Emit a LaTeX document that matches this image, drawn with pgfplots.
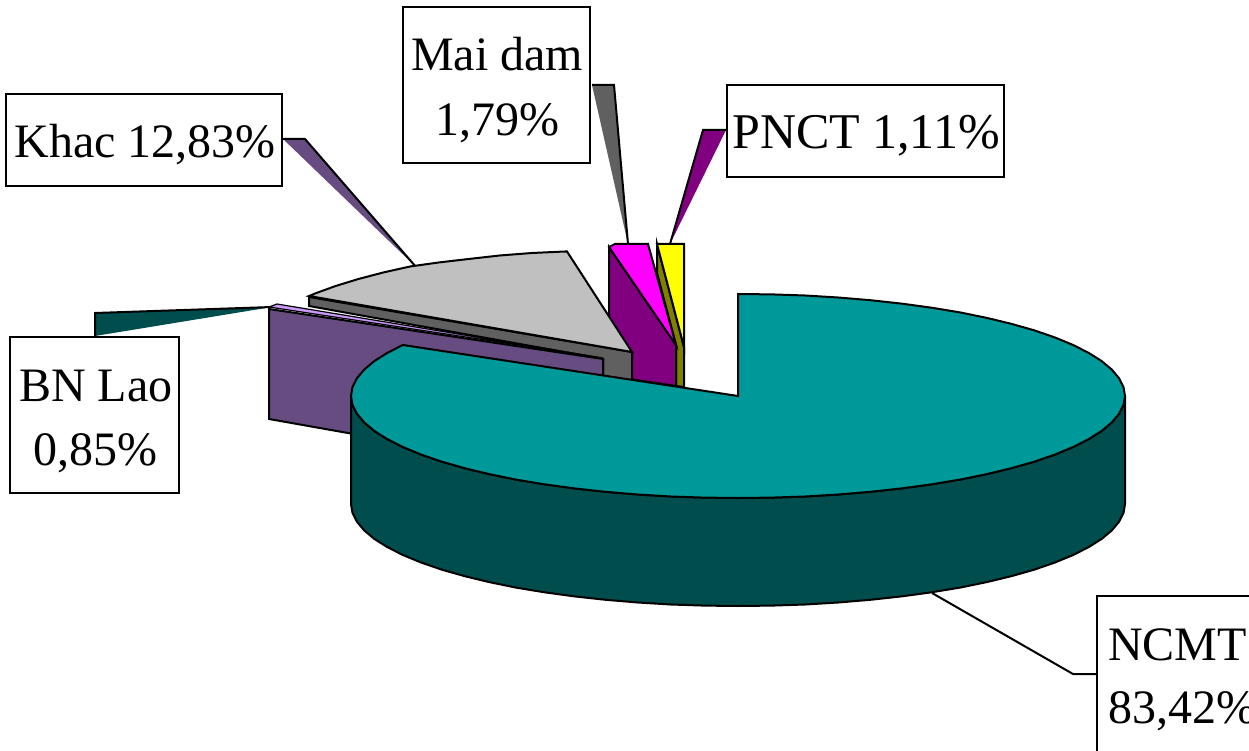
\documentclass[border=0pt]{standalone}
\usepackage{pgfplots}
\pgfplotsset{compat=1.18}
\usepackage{fontspec}
\setmainfont{Liberation Serif}
\definecolor{tealtop}{HTML}{009999}
\definecolor{tealside}{HTML}{004D4D}
\definecolor{wallpurple}{HTML}{664C80}
\definecolor{lilac}{HTML}{CC99FF}
\definecolor{greytop}{HTML}{C0C0C0}
\definecolor{greyside}{HTML}{606060}
\definecolor{purpleside}{HTML}{800080}
\definecolor{oliveside}{HTML}{808000}
\definecolor{topmagenta}{HTML}{FF00FF}
\definecolor{topyellow}{HTML}{FFFF00}
\newcommand{\lbl}[3]{\node[anchor=base,font=\fontsize{48}{54}\selectfont,inner sep=0pt] at (axis cs:#1,#2) {#3};}
\begin{document}
\begin{tikzpicture}
\path[use as bounding box] (0,0) rectangle (1249pt,751pt);
\begin{axis}[
  at={(0,0)}, anchor=south west,
  scale only axis, width=1249pt, height=751pt,
  xmin=0, xmax=1249, ymin=0, ymax=751, y dir=reverse,
  hide axis, clip=true,
  every axis plot/.append style={line width=2pt, line join=miter, mark=none},
]
% callout pointers
\addplot[fill=wallpurple, draw=none] coordinates {(283,139)(305,139)(416,267)} --cycle;
\addplot[draw=black] coordinates {(283,139)(305,139)(416,267)};
\addplot[fill=tealside, draw=none] coordinates {(95,313)(272,307)(95,336)} --cycle;
\addplot[draw=black] coordinates {(95,336)(95,313)(272,307)};
\addplot[fill=greyside, draw=none] coordinates {(592,85)(614,85)(628,244)} --cycle;
\addplot[draw=black] coordinates {(592,85)(614,85)(628,244)};
\addplot[fill=purpleside, draw=none] coordinates {(726,130)(703,130)(670,244)} --cycle;
\addplot[draw=black] coordinates {(726,130)(703,130)(670,244)};
\addplot[draw=black] coordinates {(932,593)(1073,674)(1097,674)};
% PNCT slice
\addplot[fill=oliveside, draw=black] coordinates {(657,244)(657,273)(676,345)(676,386)(684,387)(684,347)} --cycle;
\addplot[fill=topyellow, draw=black] coordinates {(657,244)(684,244)(684,347)} --cycle;
% Mai dam slice
\addplot[fill=purpleside, draw=black] coordinates {(609,247)(676,345)(676,386)(609,376)} --cycle;
\addplot[fill=topmagenta, draw=black] coordinates {(609,247)(615,244)(648,244)(676,345)} --cycle;
% Khac slice
\addplot[fill=greyside, draw=black] coordinates {(309,297)(632,352)(632,381)(603,376)(603,359)(309,306)} --cycle;
\addplot[fill=greytop, draw=black] coordinates {(309,296)(315,293.5)(335.6,286)(358.4,279)(383.2,272.5)(410,266.5)(438.5,262.5)(468.5,259)(499.6,255.5)(531.8,253)(564.8,251.5)(567,251.5)(632,352)} --cycle;
% BN Lao slice
\addplot[fill=wallpurple, draw=black] coordinates {(269,309)(603,359)(603,378)(500,460)(269,419)} --cycle;
\addplot[fill=lilac, draw=black, line width=1.2pt] coordinates {(269,307)(277,304)(603,358)} --cycle;
% NCMT slice: rim, then top face
\addplot[fill=tealside, draw=black] coordinates {
 (1125,396)(1123.5,404.9)(1119.1,413.7)(1111.8,422.4)(1101.7,430.9)(1088.7,439.1)(1073.1,447)(1055,454.5)(1034.4,461.6)(1011.6,468.1)(986.8,474.1)(960,479.6)(931.5,484.3)(901.5,488.4)(870.4,491.8)(838.2,494.5)(805.2,496.5)(771.7,497.6)(738,498)(704.3,497.6)(670.8,496.5)(637.8,494.5)(605.6,491.8)(574.5,488.4)(544.5,484.3)(516,479.6)(489.2,474.1)(464.4,468.1)(441.6,461.6)(421,454.5)(402.9,447)(387.3,439.1)(374.3,430.9)(364.2,422.4)(356.9,413.7)(352.5,404.9)(351,396)
 (351,504)(352.5,512.9)(356.9,521.7)(364.2,530.4)(374.3,538.9)(387.3,547.1)(402.9,555)(421,562.5)(441.6,569.6)(464.4,576.1)(489.2,582.1)(516,587.6)(544.5,592.3)(574.5,596.4)(605.6,599.8)(637.8,602.5)(670.8,604.5)(704.3,605.6)(738,606)(771.7,605.6)(805.2,604.5)(838.2,602.5)(870.4,599.8)(901.5,596.4)(931.5,592.3)(960,587.6)(986.8,582.1)(1011.6,576.1)(1034.4,569.6)(1055,562.5)(1073.1,555)(1088.7,547.1)(1101.7,538.9)(1111.8,530.4)(1119.1,521.7)(1123.5,512.9)(1125,504)
} --cycle;
\addplot[fill=tealtop, draw=black] coordinates {
 (738,396)(738,294)(771.7,294.4)(805.2,295.5)(838.2,297.5)(870.4,300.2)(901.5,303.6)(931.5,307.7)(960,312.4)(986.8,317.9)(1011.6,323.9)(1034.4,330.4)(1055,337.5)(1073.1,345)(1088.7,352.9)(1101.7,361.1)(1111.8,369.6)(1119.1,378.3)(1123.5,387.1)(1125,396)(1123.5,404.9)(1119.1,413.7)(1111.8,422.4)(1101.7,430.9)(1088.7,439.1)(1073.1,447)(1055,454.5)(1034.4,461.6)(1011.6,468.1)(986.8,474.1)(960,479.6)(931.5,484.3)(901.5,488.4)(870.4,491.8)(838.2,494.5)(805.2,496.5)(771.7,497.6)(738,498)(704.3,497.6)(670.8,496.5)(637.8,494.5)(605.6,491.8)(574.5,488.4)(544.5,484.3)(516,479.6)(489.2,474.1)(464.4,468.1)(441.6,461.6)(421,454.5)(402.9,447)(387.3,439.1)(374.3,430.9)(364.2,422.4)(356.9,413.7)(352.5,404.9)(351,396)(352.5,387.1)(356.9,378.3)(364.2,369.6)(374.3,361.1)(387.3,352.9)(402.9,345)
} --cycle;
% label boxes
\addplot[fill=white, draw=black] coordinates {(6,94)(282,94)(282,186)(6,186)} --cycle;
\addplot[fill=white, draw=black] coordinates {(403,7)(590,7)(590,163)(403,163)} --cycle;
\addplot[fill=white, draw=black] coordinates {(727,85)(1004,85)(1004,177)(727,177)} --cycle;
\addplot[fill=white, draw=black] coordinates {(10,337)(179,337)(179,493)(10,493)} --cycle;
\addplot[fill=white, draw=black] coordinates {(1097,596)(1290,596)(1290,790)(1097,790)} --cycle;
% label texts
\lbl{145}{158}{Khac 12,83\%}
\lbl{497}{71}{Mai dam}
\lbl{497}{136}{1,79\%}
\node[anchor=base,font=\fontsize{50}{54}\selectfont,inner sep=0pt] at (axis cs:866,149) {PNCT 1,11\%};
\lbl{96}{401}{BN Lao}
\lbl{95}{465}{0,85\%}
\node[anchor=base west,font=\fontsize{48}{54}\selectfont,inner sep=0pt] at (axis cs:1108,660) {NCMT};
\node[anchor=base west,font=\fontsize{48}{54}\selectfont,inner sep=0pt] at (axis cs:1108,723) {83,42\%};
\end{axis}
\end{tikzpicture}
\end{document}
